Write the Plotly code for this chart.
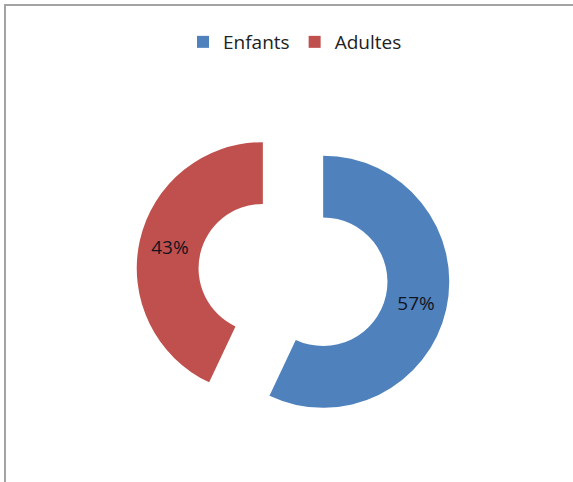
import plotly.graph_objects as go

labels = ["Enfants", "Adultes"]
values = [57, 43]
colors = ["#4F81BD", "#C0504D"]

W, H = 573, 482
ml, mr, mt, mb = 50, 37, 118, 50
pw = W - ml - mr
ph = H - mt - mb

def px_x(p):
    return (p - ml) / pw

def px_y(p):
    return (H - mb - p) / ph

fig = go.Figure(go.Pie(
    labels=labels,
    values=values,
    marker=dict(colors=colors, line=dict(width=0)),
    hole=0.51,
    pull=[0.245, 0.245],
    sort=False,
    direction="clockwise",
    rotation=0,
    textinfo="percent",
    textposition="inside",
    insidetextorientation="horizontal",
    textfont=dict(family="Open Sans, sans-serif", size=19, color="#141420"),
))

fig.update_layout(
    width=W, height=H,
    margin=dict(l=ml, r=mr, t=mt, b=mb),
    paper_bgcolor="white",
    plot_bgcolor="white",
    showlegend=True,
    legend=dict(
        orientation="h",
        x=px_x(295), xanchor="center",
        y=px_y(42), yanchor="middle",
        font=dict(family="Open Sans, sans-serif", size=19, color="#222222"),
        itemwidth=30,
    ),
    shapes=[dict(
        type="rect", xref="paper", yref="paper",
        x0=px_x(5), x1=px_x(600), y0=px_y(520), y1=px_y(5),
        line=dict(color="#a3a3a3", width=2),
        fillcolor="rgba(0,0,0,0)",
        layer="below",
    )],
)

fig.write_html("out.html")
